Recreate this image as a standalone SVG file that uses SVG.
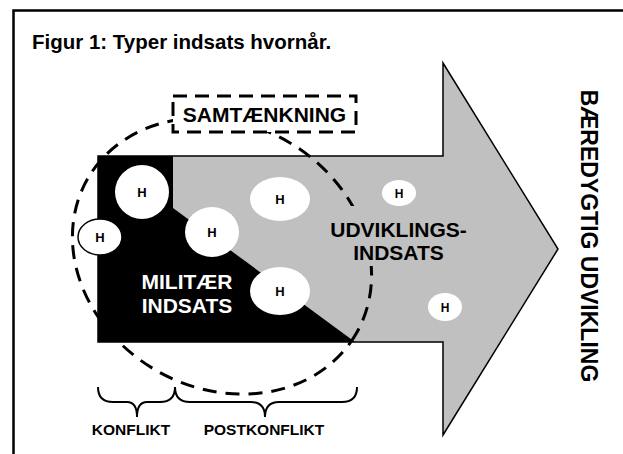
<svg xmlns="http://www.w3.org/2000/svg" width="623" height="454" viewBox="0 0 623 454">
<style>
text{font-family:"Liberation Sans",Arial,sans-serif;font-weight:bold;fill:#000}
.h{font-size:13px;text-anchor:middle}
.hs{font-size:12px;text-anchor:middle}
.hb{fill:#fff}
.lbl{font-size:21px;text-anchor:middle}
.small{font-size:15.5px;text-anchor:middle}
.dash{fill:none;stroke:#000;stroke-width:3;stroke-dasharray:14 9}
</style>
<rect x="13.5" y="10.5" width="640" height="470" fill="#fff" stroke="#000" stroke-width="2.5"/>
<text x="32" y="49" style="font-size:20.5px">Figur 1: Typer indsats hvornår.</text>
<g id="arrow">
<polygon points="98,156 443,156 443,63 558,249 443,435 443,342 98,342" fill="#c0c0c0" stroke="#000" stroke-width="1.5" stroke-linejoin="miter"/>
</g>
<g id="militaer">
<polygon points="98,156 173,156 173,208 355,342 98,342" fill="#000"/>
</g>
<g id="samtaenkning-circle">
<ellipse class="dash" cx="222" cy="256" rx="155" ry="132" transform="rotate(30 222 256)"/>
</g>
<g id="udvikling">
<rect x="326" y="206" width="146" height="60" fill="#c0c0c0"/>
<text class="lbl" x="398.5" y="237">UDVIKLINGS-</text>
<text class="lbl" x="398.5" y="260">INDSATS</text>
</g>
<g id="militaer-label">
<text class="lbl hb" x="187" y="289" style="fill:#fff">MILITÆR</text>
<text class="lbl hb" x="187" y="313" style="fill:#fff">INDSATS</text>
</g>
<g id="h1"><ellipse cx="142" cy="192" rx="27" ry="27" fill="#fff"/><text class="h" x="142" y="197">H</text></g>
<g id="h2"><ellipse cx="100" cy="237" rx="22" ry="18" fill="#fff" stroke="#000" stroke-width="1.5"/><text class="h" x="100" y="242">H</text></g>
<g id="h3"><ellipse cx="212" cy="232" rx="27" ry="25" fill="#fff"/><text class="h" x="212" y="237">H</text></g>
<g id="h4"><ellipse cx="280" cy="199" rx="30" ry="22" fill="#fff"/><text class="h" x="280" y="204">H</text></g>
<g id="h5"><ellipse cx="280" cy="291" rx="30" ry="24" fill="#fff"/><text class="h" x="280" y="296">H</text></g>
<g id="h6"><ellipse cx="399" cy="193" rx="17" ry="13" fill="#fff"/><text class="hs" x="399" y="197.5">H</text></g>
<g id="h7"><ellipse cx="445" cy="307" rx="17" ry="14" fill="#fff"/><text class="hs" x="445" y="311.5">H</text></g>
<g id="samtaenkning">
<rect class="dash" x="173" y="96" width="183" height="36" fill="#fff" style="fill:#fff;stroke-dasharray:14 8"/>
<text class="lbl" x="264.5" y="122">SAMTÆNKNING</text>
</g>
<g id="connectors">
<path d="M98,387 Q98,402 113,402 L127,402 Q137,402 137,417 Q137,402 147,402 L160,402 Q175,402 175,387" fill="none" stroke="#000" stroke-width="2"/>
<path d="M175,387 Q175,402 190,402 L251,402 Q265,402 265,417 Q265,402 279,402 L342,402 Q357,402 357,387" fill="none" stroke="#000" stroke-width="2"/>
</g>
<text class="small" x="131" y="435">KONFLIKT</text>
<text class="small" x="264" y="435">POSTKONFLIKT</text>
<text transform="translate(581,236) rotate(90)" style="font-size:23px;text-anchor:middle">BÆREDYGTIG UDVIKLING</text>
</svg>
